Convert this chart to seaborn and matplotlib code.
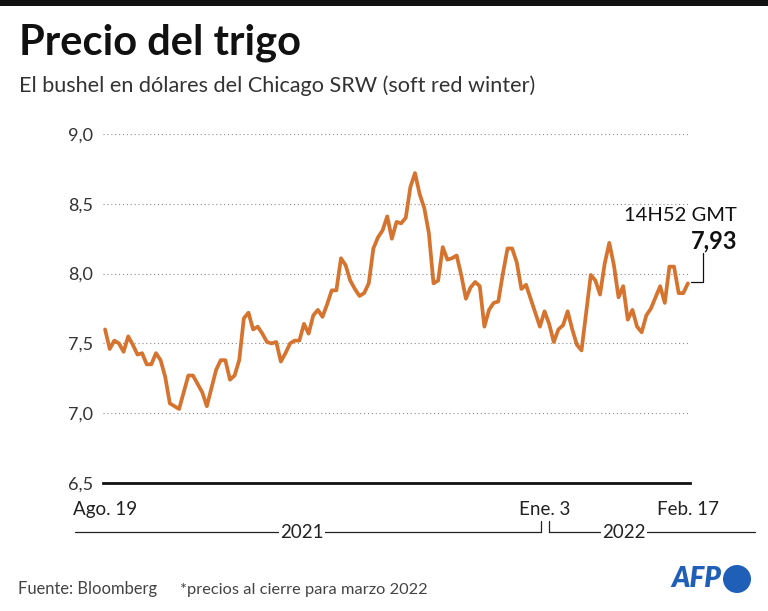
import matplotlib.pyplot as plt
import matplotlib.lines as mlines
import matplotlib.patches as mpatches
import seaborn as sns
import pandas as pd

# precio de cierre por sesion, Chicago SRW (USD por bushel), 19 ago 2021 - 17 feb 2022
prices = [7.60, 7.46, 7.52, 7.50, 7.44, 7.55, 7.49, 7.42, 7.43, 7.35,
          7.35, 7.43, 7.38, 7.26, 7.07, 7.05, 7.03, 7.15, 7.27, 7.27,
          7.21, 7.15, 7.05, 7.18, 7.31, 7.38, 7.38, 7.24, 7.27, 7.38,
          7.68, 7.72, 7.60, 7.62, 7.57, 7.51, 7.50, 7.51, 7.37, 7.43,
          7.50, 7.52, 7.52, 7.64, 7.57, 7.70, 7.74, 7.69, 7.78, 7.88,
          7.88, 8.11, 8.06, 7.95, 7.89, 7.84, 7.86, 7.93, 8.18, 8.26,
          8.31, 8.41, 8.25, 8.37, 8.36, 8.40, 8.62, 8.72, 8.57, 8.47,
          8.29, 7.93, 7.95, 8.19, 8.10, 8.11, 8.13, 7.99, 7.82, 7.90,
          7.94, 7.91, 7.62, 7.74, 7.79, 7.80, 8.00, 8.18, 8.18, 8.08,
          7.89, 7.92, 7.82, 7.72, 7.62, 7.73, 7.64, 7.51, 7.60, 7.63,
          7.73, 7.60, 7.49, 7.45, 7.72, 7.99, 7.95, 7.85, 8.07, 8.22,
          8.06, 7.83, 7.91, 7.67, 7.74, 7.62, 7.58, 7.70, 7.75, 7.83,
          7.91, 7.79, 8.05, 8.05, 7.86, 7.86, 7.93]
sessions = list(range(len(prices)))
y_ticks = [6.5, 7.0, 7.5, 8.0, 8.5, 9.0]
y_labels = ['6,5', '7,0', '7,5', '8,0', '8,5', '9,0']
x_ticks = [0, 95, 126]   # sesiones del 19 ago, 3 ene y 17 feb
x_labels = ['Ago. 19', 'Ene. 3', 'Feb. 17']
last_time = '14H52 GMT'
last_label = '7,93'

df = pd.DataFrame({'sesion': sessions, 'precio': prices})

sns.set_style('white')
plt.rcParams['font.family'] = ['Lato', 'DejaVu Sans']

W, H = 768, 611
fig = plt.figure(figsize=(W / 100, H / 100), dpi=100)

def fx(x):
    return x / W

def fy(y):
    return 1 - y / H

ax = fig.add_axes([fx(103), fy(483), fx(690) - fx(103), fy(134) - fy(483)])
sns.lineplot(data=df, x='sesion', y='precio', ax=ax, color='#d6742f',
             linewidth=2.7, solid_joinstyle='round', solid_capstyle='round')

ax.set_xlim(-0.45, len(prices) - 1 + 0.45)
ax.set_ylim(6.5, 9.0)
ax.set_xlabel('')
ax.set_ylabel('')

for v in y_ticks[1:]:
    ax.axhline(v, color='#8a8a8a', linewidth=0.8, linestyle=(0, (1, 2.5)), zorder=0)

for side in ['top', 'right', 'left']:
    ax.spines[side].set_visible(False)
ax.spines['bottom'].set_color('#111111')
ax.spines['bottom'].set_linewidth(2)

ax.set_yticks(y_ticks)
ax.set_yticklabels(y_labels)
ax.set_xticks(x_ticks)
ax.set_xticklabels(x_labels)
ax.tick_params(axis='y', length=0, pad=7, labelsize=13, labelcolor='#333333')
ax.tick_params(axis='x', direction='out', length=8, width=0.8, color='#111111',
               pad=5, labelsize=13.5, labelcolor='#222222')
ax.set_facecolor('none')

# ultimo valor
fig.text(fx(737), fy(221), last_time, ha='right', va='baseline', fontsize=14.5, color='#111111')
fig.text(fx(737), fy(248), last_label, ha='right', va='baseline', fontsize=17,
         fontweight='bold', color='#111111')
fig.add_artist(mlines.Line2D([fx(691), fx(703), fx(703)], [fy(282), fy(282), fy(253)],
                             color='#111111', linewidth=0.9))

# barra superior
fig.add_artist(mpatches.Rectangle((0, fy(6)), 1, fy(0) - fy(6), color='#111111', lw=0))

fig.text(fx(19), fy(55), 'Precio del trigo', ha='left', va='baseline', fontsize=30,
         fontweight='bold', color='#111111')
fig.text(fx(19), fy(92), 'El bushel en dólares del Chicago SRW (soft red winter)',
         ha='left', va='baseline', fontsize=15.6, color='#333333')

# años
yl = fy(532)
for x0, x1, label, xt, tick_x in [(75, 541, '2021', 302, 541), (549, 755, '2022', 624, 549)]:
    fig.add_artist(mlines.Line2D([fx(x0), fx(x1)], [yl, yl], color='#222222', linewidth=0.9))
    fig.add_artist(mlines.Line2D([fx(tick_x), fx(tick_x)], [yl, fy(521)], color='#222222',
                                 linewidth=0.9))
    fig.text(fx(xt), yl, label, ha='center', va='center', fontsize=13.5, color='#222222',
             bbox=dict(facecolor='white', edgecolor='none', pad=1))

fig.text(fx(18), fy(594), 'Fuente: Bloomberg', ha='left', va='baseline', fontsize=11.9,
         color='#444444')
fig.text(fx(180), fy(594), '*precios al cierre para marzo 2022', ha='left', va='baseline',
         fontsize=11.8, color='#444444')

# logo
fig.text(fx(721), fy(579), 'AFP', ha='right', va='center', fontsize=20, fontweight='heavy',
         style='italic', color='#1f5fb8')
fig.add_artist(mpatches.Ellipse((fx(737), fy(579)), 28 / W, 28 / H, color='#1f5fb8', lw=0))

fig.savefig('out.png', dpi=100, facecolor='white')
